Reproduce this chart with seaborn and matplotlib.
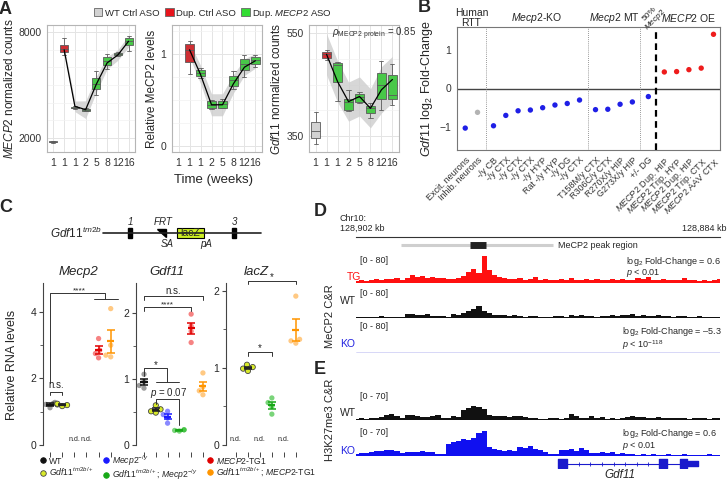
import numpy as np
import pandas as pd
import matplotlib
matplotlib.use("Agg")
import matplotlib.pyplot as plt
from matplotlib.patches import Patch, Polygon, Rectangle
from matplotlib.lines import Line2D
import seaborn as sns

# ---------------- Panel A: ASO time course ----------------
a_xlabels = ["1", "1", "1", "2", "5", "8", "12", "16"]
a_groups = ["WT", "Dup", "ASO", "ASO", "ASO", "ASO", "ASO", "ASO"]
a_line_x = [1, 2, 3, 4, 5, 6, 7]
# each box: whisker low, q1, median, q3, whisker high
mecp2_boxes = [[1700, 1740, 1770, 1800, 1840], [6700, 6880, 7020, 7260, 7650],
               [3640, 3680, 3720, 3770, 3800], [3500, 3540, 3590, 3640, 3680],
               [4450, 4770, 5050, 5420, 5800], [5900, 6150, 6340, 6560, 6750],
               [6650, 6680, 6760, 6840, 6880], [6900, 7260, 7480, 7670, 7750]]
mecp2_line = [6990, 3790, 3600, 5050, 6250, 6700, 7480]
mecp2_band = [150, 300, 500, 450, 350, 300, 330]

prot_boxes = [None, [0.79, 0.92, 1.05, 1.11, 1.15],
              [0.74, 0.76, 0.80, 0.83, 0.85], [0.40, 0.42, 0.45, 0.49, 0.50],
              [0.41, 0.42, 0.46, 0.49, 0.51], [0.62, 0.66, 0.72, 0.76, 0.82],
              [0.75, 0.83, 0.90, 0.95, 0.99], [0.86, 0.90, 0.94, 0.97, 0.99]]
prot_line = [1.05, 0.78, 0.45, 0.45, 0.68, 0.86, 0.93]
prot_band = [0.08, 0.10, 0.12, 0.12, 0.10, 0.09, 0.08]

gdf_boxes = [[334, 346, 360, 377, 397], [497, 501, 509, 514, 518],
             [418, 456, 489, 493, 495], [398, 400, 417, 423, 440],
             [414, 417, 425, 432, 436], [385, 394, 404, 409, 415],
             [400, 422, 449, 473, 496], [410, 422, 430, 469, 490]]
gdf_line = [509, 456, 417, 427, 404, 440, 460]
gdf_band = [40, 40, 38, 38, 38, 45, 45]

# ---------------- Panel B: Gdf11 fold change ----------------
b_labels = ["Excit. neurons", "Inhib. neurons", "-/y CB", "-/y CTX", "-/y CTX", "-/y CTX",
            "-/y HYP", "Rat -/y HYP", "-/y DG", "-/y CTX", "T158M/y CTX", "R306C/y CTX",
            "R270X/y HIP", "G273X/y HIP", "+/- DG",
            r"$\mathit{MECP2}$ Dup. HIP", r"$\mathit{MECP2}$ Trip. HYP", r"$\mathit{MECP2}$ Dup. HIP",
            r"$\mathit{MECP2}$ Trip. CTX", r"$\mathit{MECP2}$ AAV CTX"]
b_values = [-1.03, -0.62, -0.97, -0.70, -0.58, -0.56, -0.50, -0.43, -0.39, -0.30,
            -0.55, -0.54, -0.41, -0.35, -0.21, 0.43, 0.44, 0.49, 0.53, 1.41]
b_group = [0, 0, 1, 1, 1, 1, 1, 1, 1, 1, 2, 2, 2, 2, 3, 4, 4, 4, 4, 4]
b_kind = ["loss", "ctrl"] + ["loss"] * 13 + ["gain"] * 5
b_headers = ["Human\nRTT", r"$\mathit{Mecp2}$-KO", r"$\mathit{Mecp2}$ MT",
             "50%\n" + r"$\mathit{Mecp2}$", r"$\mathit{MECP2}$ OE"]

# ---------------- Panel C: RT-qPCR ----------------
c_groups = ["WT", "Gdf11/+", "Mecp2", "Gdf11;Mecp2", "TG1", "Gdf11;TG1"]
c_mecp2 = {"WT": [1.12, 1.22, 1.25, 1.28], "Gdf11/+": [1.17, 1.20, 1.22, 1.24],
           "TG1": [2.62, 2.75, 2.85, 3.20], "Gdf11;TG1": [2.65, 2.70, 3.00, 4.10]}
c_gdf11 = {"WT": [0.86, 0.90, 0.96, 1.07], "Gdf11/+": [0.49, 0.51, 0.54, 0.60],
           "Mecp2": [0.33, 0.41, 0.46, 0.51], "Gdf11;Mecp2": [0.21, 0.22, 0.23, 0.23],
           "TG1": [1.55, 1.72, 1.80, 1.98], "Gdf11;TG1": [0.76, 0.82, 0.88, 1.09]}
c_lacz = {"Gdf11/+": [0.96, 0.99, 1.01, 1.04], "Gdf11;Mecp2": [0.40, 0.50, 0.55, 0.61],
          "Gdf11;TG1": [1.32, 1.35, 1.37, 1.93]}
c_legend = ["WT", r"$\mathit{Gdf11}^{tm2b/+}$", r"$\mathit{Mecp2}^{-/y}$",
            r"$\mathit{Gdf11}^{tm2b/+}$; $\mathit{Mecp2}^{-/y}$", r"$\mathit{MECP2}$-TG1",
            r"$\mathit{Gdf11}^{tm2b/+}$; $\mathit{MECP2}$-TG1"]

# gene schematic (drawing units = pixels of the panel)
exon_x = [128, 232]
lacz_box = [177, 204]
frt_x = 157

# ---------------- Panels D/E: genome tracks (kb on chr10) ----------------
chr_left, chr_right = 128902.9, 128884.1
peak_region = [128900.6, 128892.7]
peak_core = [128897.0, 128896.2]
gdf11_exons = [(128891.99, 0.48), (128886.84, 0.41), (128885.78, 0.38)]
gdf11_utr = (128885.23, 0.55)
gdf11_span = [128892.47, 128885.23]
tg_cov = [6, 9, 5, 10, 12, 8, 13, 11, 14, 10, 16, 24, 18, 20, 16, 19, 14, 15, 12, 13,
          14, 22, 34, 42, 30, 80, 38, 24, 18, 15, 13, 12, 14, 10, 12, 17, 9, 11, 8, 10,
          12, 9, 15, 8, 10, 12, 9, 11, 8, 10, 12, 9, 11, 10, 9, 14, 12, 17, 10, 9,
          11, 8, 10, 9, 14, 8, 9, 7, 8, 6, 9, 12]
wt_cov = [2, 3, 4, 3, 4, 5, 3, 4, 3, 4, 10, 11, 7, 9, 10, 6, 5, 6, 4, 10,
          9, 15, 19, 24, 32, 20, 14, 9, 7, 8, 6, 7, 5, 4, 6, 5, 3, 4, 3, 5,
          6, 4, 7, 5, 8, 6, 5, 4, 6, 5, 7, 6, 8, 7, 10, 6, 7, 6, 5, 7,
          6, 5, 4, 5, 6, 3, 4, 5, 3, 4, 2, 4]
k27_wt_cov = [2, 4, 3, 6, 5, 7, 12, 14, 10, 6, 13, 12, 9, 7, 8, 11, 12, 6, 5, 9,
              7, 24, 30, 34, 33, 28, 12, 11, 9, 10, 8, 10, 9, 8, 5, 4, 3, 2, 4, 6,
              3, 4, 14, 9, 6, 4, 11, 6, 8, 3, 4, 3, 6, 8, 9, 7, 8, 6, 5, 7,
              4, 6, 5, 4, 5, 3, 5, 4, 4, 3, 5, 6]
k27_ko_cov = [5, 8, 7, 10, 12, 13, 15, 14, 12, 8, 9, 11, 10, 12, 9, 11, 6, 5, 30, 36,
              38, 42, 40, 45, 58, 62, 22, 18, 14, 12, 15, 13, 22, 20, 24, 18, 16, 10, 5, 4,
              14, 16, 18, 12, 20, 16, 7, 8, 10, 7, 9, 6, 8, 5, 4, 3, 4, 3, 5, 3,
              3, 4, 2, 3, 4, 3, 3, 2, 3, 4, 3, 3]

# ---------------- style ----------------
sns.set_theme(style="white")
plt.rcParams["font.family"] = ["Liberation Sans", "DejaVu Sans"]
plt.rcParams["mathtext.fontset"] = "custom"
plt.rcParams["mathtext.rm"] = "Liberation Sans"
plt.rcParams["mathtext.it"] = "Liberation Sans:italic"
plt.rcParams["mathtext.bf"] = "Liberation Sans:bold"

W, H = 727, 482
fig = plt.figure(figsize=(W / 100, H / 100), dpi=100)


def px_axes(x0, y0, x1, y1):
    return fig.add_axes([x0 / W, 1 - y1 / H, (x1 - x0) / W, (y1 - y0) / H])


def ftext(x, y, s, **kw):
    kw.setdefault("va", "center")
    fig.text(x / W, 1 - y / H, s, **kw)


GRAY, RED, GREEN = "#d2d2d2", "#e8141c", "#33dd33"
a_pal = {"WT": GRAY, "Dup": RED, "ASO": GREEN}


def draw_a(ax, boxes, line, band, ylim, major, minor, ylabel):
    rows = [(slot, a_groups[slot], v) for slot, b in enumerate(boxes) if b for v in b]
    df = pd.DataFrame(rows, columns=["slot", "grp", "val"])
    line = np.array(line, float)
    band = np.array(band, float)
    ax.fill_between(a_line_x, line - band, line + band, color="#cdcdcd", alpha=0.8,
                    lw=0, zorder=1)
    sns.boxplot(data=df, x="slot", y="val", hue="grp", order=list(range(8)),
                palette=a_pal, dodge=False, width=0.75, whis=(0, 100),
                linecolor="#5a5a5a", linewidth=0.6, legend=False, ax=ax)
    sns.lineplot(x=a_line_x, y=line, color="black", lw=0.9, ax=ax, zorder=4)
    ax.set_xlim(-0.6, 7.6)
    ax.set_xticks(range(8))
    ax.set_xticklabels(a_xlabels, fontsize=7.5, color="#333333")
    ax.set_xlabel("")
    ax.set_ylim(*ylim)
    ax.set_yticks(major)
    ax.set_yticklabels([str(m) for m in major], fontsize=7.5, color="#333333")
    ax.set_yticks(minor, minor=True)
    ax.set_axisbelow(True)
    ax.grid(True, which="major", color="#e4e4e4", lw=0.7)
    ax.grid(True, which="minor", axis="y", color="#f1f1f1", lw=0.5)
    ax.tick_params(which="minor", length=0)
    ax.tick_params(which="major", length=2, color="#888888", pad=2)
    for s in ax.spines.values():
        s.set_color("#b5b5b5")
        s.set_linewidth(0.8)
    ax.set_ylabel(ylabel, fontsize=8.5, labelpad=2)


ax1 = px_axes(47, 25, 135, 152)
draw_a(ax1, mecp2_boxes, mecp2_line, mecp2_band, (1200, 8400), [2000, 8000],
       [3000, 4000, 5000, 6000, 7000], r"$\mathit{MECP2}$ normalized counts")
ax2 = px_axes(172, 25, 262, 152)
draw_a(ax2, prot_boxes, prot_line, prot_band, (-0.065, 1.32), [0, 1],
       [0.25, 0.5, 0.75, 1.25], "Relative MeCP2 levels")
ax3 = px_axes(309, 25, 399, 152)
draw_a(ax3, gdf_boxes, gdf_line, gdf_band, (319, 566), [350, 550],
       [400, 450, 500], r"$\mathit{Gdf11}$ normalized counts")
ax3.text(0.25, 0.93, r"$\rho_{\mathrm{MECP2\ protein}}$ = 0.85", transform=ax3.transAxes,
         fontsize=7, color="#333333", va="center")

ftext(213, 180, "Time (weeks)", fontsize=9.5, ha="center")
a_handles = [Patch(fc=c, ec="#666666", lw=0.6) for c in (GRAY, RED, GREEN)]
fig.legend(a_handles, ["WT Ctrl ASO", "Dup. Ctrl ASO", r"Dup. $\mathit{MECP2}$ ASO"],
           loc="center", bbox_to_anchor=(213 / W, 1 - 13 / H), ncol=3, frameon=False,
           fontsize=6.8, handlelength=0.9, handleheight=0.9, columnspacing=0.6,
           handletextpad=0.25, borderpad=0)

# ---------------- B ----------------
axb = px_axes(457, 27, 720, 150)
b_pos = np.arange(len(b_values)) + 0.3 * np.array(b_group)
axb.axhline(0, color="#444444", lw=1.0, zorder=1)
sns.scatterplot(x=b_pos, y=b_values, hue=b_kind,
                palette={"loss": "#1f1fe6", "ctrl": "#b3b3b3", "gain": "#ee1c1c"},
                s=15, edgecolor="none", legend=False, ax=axb, zorder=3)
for g in range(4):
    last = b_pos[np.array(b_group) == g].max()
    first = b_pos[np.array(b_group) == g + 1].min()
    mid = (last + first) / 2
    if g == 3:
        axb.axvline(mid, color="black", lw=1.6, ls=(0, (3, 2)))
    else:
        axb.axvline(mid, color="#777777", lw=0.6, ls=(0, (1, 1.5)))
axb.set_xlim(b_pos[0] - 0.67, b_pos[-1] + 0.53)
axb.set_ylim(-1.6, 1.6)
axb.set_yticks([-1, 0, 1])
axb.set_yticklabels(["\u22121", "0", "1"], fontsize=7.5, color="#333333")
axb.set_xticks(b_pos)
axb.set_xticklabels(b_labels, rotation=45, ha="right", rotation_mode="anchor",
                    fontsize=6.5, color="#333333")
axb.tick_params(length=2, color="#777777", pad=2)
for s in axb.spines.values():
    s.set_color("#777777")
    s.set_linewidth(0.8)
axb.set_ylabel(r"$\mathit{Gdf11}$ log$_2$ Fold-Change", fontsize=9, labelpad=3)
for g, hdr in enumerate(b_headers):
    xs = b_pos[np.array(b_group) == g]
    xc = xs.mean()
    if g == 3:
        axb.text(xc + 0.4, 1.075, hdr, transform=axb.get_xaxis_transform(), rotation=45,
                 ha="center", va="center", fontsize=6, linespacing=0.85)
    else:
        axb.text(xc, 1.07, hdr, transform=axb.get_xaxis_transform(), ha="center",
                 va="center", fontsize=7.5, linespacing=1.0)

# ---------------- C ----------------
ax_s = px_axes(40, 205, 280, 250)
ax_s.set_xlim(40, 280)
ax_s.set_ylim(250, 205)
ax_s.axis("off")
ax_s.plot([103, 261], [233, 233], color="#222222", lw=1.2)
for ex in exon_x:
    ax_s.add_patch(Rectangle((ex, 228), 4, 10, color="black"))
ax_s.add_patch(Polygon([[frt_x, 228.5], [frt_x + 9, 228.5], [frt_x + 9, 237]], color="black"))
ax_s.add_patch(Rectangle((lacz_box[0], 228), lacz_box[1] - lacz_box[0], 10, fc="#ccee22",
                         ec="black", lw=0.8))
ax_s.text(50, 233, r"$\mathit{Gdf11}^{tm2b}$", fontsize=8.5, va="center")
ax_s.text(exon_x[0] + 2, 222, "1", fontsize=7, style="italic", ha="center", va="center")
ax_s.text(exon_x[1] + 2, 222, "3", fontsize=7, style="italic", ha="center", va="center")
ax_s.text(frt_x + 6, 222, "FRT", fontsize=7, style="italic", ha="center", va="center")
ax_s.text(frt_x + 10, 244, "SA", fontsize=7, style="italic", ha="center", va="center")
ax_s.text(lacz_box[1] + 2, 244, "pA", fontsize=7, style="italic", ha="center", va="center")
ax_s.text(sum(lacz_box) / 2, 233, "lacZ", fontsize=7.5, ha="center", va="center")

c_pal = {"WT": "#5a5a5a", "Gdf11/+": "#d8ea2a", "Mecp2": "#3a3aff",
         "Gdf11;Mecp2": "#22b822", "TG1": "#f03030", "Gdf11;TG1": "#ffa530"}
c_bar = {"WT": "#111111", "Gdf11/+": "#222222", "Mecp2": "#1a1aff",
         "Gdf11;Mecp2": "#18a818", "TG1": "#e00000", "Gdf11;TG1": "#ff9500"}


def bracket(ax, pts, text=None, tx=None, ty=None, fs=7):
    xs, ys = zip(*pts)
    ax.plot(xs, ys, color="#333333", lw=0.7, clip_on=False)
    if text:
        ax.text(tx, ty, text, ha="center", va="center", fontsize=fs, clip_on=False)


def draw_c(ax, data, ylim, major, minor):
    rows = [(g, v) for g in c_groups if g in data for v in data[g]]
    df = pd.DataFrame(rows, columns=["grp", "val"])
    plain = df[df.grp != "Gdf11/+"]
    sns.swarmplot(data=plain, x="grp", y="val", hue="grp", order=c_groups, palette=c_pal,
                  size=3.8, alpha=0.6, legend=False, ax=ax, zorder=2)
    yel = df[df.grp == "Gdf11/+"]
    if len(yel):
        sns.swarmplot(data=yel, x="grp", y="val", hue="grp", order=c_groups,
                      palette=c_pal, size=3.8, linewidth=0.6, edgecolor="#444444",
                      legend=False, ax=ax, zorder=2)
    for i, g in enumerate(c_groups):
        if g in data:
            v = np.array(data[g])
            m = v.mean()
            se = v.std(ddof=1) / np.sqrt(len(v))
            ax.hlines(m, i - 0.3, i + 0.3, color=c_bar[g], lw=1.6, zorder=4)
            ax.errorbar(i, m, yerr=se, color=c_bar[g], capsize=3, elinewidth=1.1,
                        capthick=1.1, zorder=4)
        else:
            ax.text(i, ylim[1] * 0.035, "n.d.", ha="center", va="center", fontsize=5)
    ax.set_ylim(*ylim)
    ax.set_yticks(major)
    ax.set_yticklabels([str(m) for m in major], fontsize=7.5)
    ax.set_yticks(minor, minor=True)
    ax.set_xticks(range(6))
    ax.set_xticklabels([])
    ax.set_xlabel("")
    ax.set_ylabel("")
    for s in ("top", "right"):
        ax.spines[s].set_visible(False)
    ax.spines["bottom"].set_position(("outward", 5))
    ax.spines["bottom"].set_visible(False)
    ax.spines["left"].set_color("#444444")
    ax.spines["left"].set_linewidth(0.8)
    ax.tick_params(axis="y", which="major", length=3, width=0.8, color="#444444", pad=2,
                   left=True)
    ax.tick_params(axis="y", which="minor", length=2, width=0.6, color="#444444", left=True)
    ax.tick_params(axis="x", length=3.5, width=0.7, color="#444444", bottom=True)


axc1 = px_axes(43, 283, 118, 445)
draw_c(axc1, c_mecp2, (0, 4.87), [0, 2, 4], [1, 3])
axc1.set_xlim(-0.58, 5.6)
bracket(axc1, [(0, 1.85), (0, 4.56), (4.55, 4.56), (4.55, 4.4)], "****", 2.4, 4.64, fs=6)
bracket(axc1, [(3.6, 4.4), (5.6, 4.4)])
bracket(axc1, [(0, 1.5), (0, 1.6), (1, 1.6), (1, 1.5)], "n.s.", 0.5, 1.8)

axc2 = px_axes(136, 283, 210, 445)
draw_c(axc2, c_gdf11, (0, 2.45), [0, 1, 2], [0.5, 1.5])
axc2.set_xlim(-0.68, 5.6)
bracket(axc2, [(0, 2.2), (0, 2.25), (5, 2.25), (5, 2.2)], "n.s.", 2.5, 2.33)
bracket(axc2, [(0, 2.03), (0, 2.09), (4, 2.09), (4, 2.03)], "****", 2.0, 2.12, fs=6)
bracket(axc2, [(0, 1.04), (0, 1.16), (1.93, 1.16), (1.93, 0.95)], "*", 1.0, 1.21)
bracket(axc2, [(1.0, 0.95), (3.0, 0.95)])
bracket(axc2, [(1, 0.62), (1, 0.69), (3, 0.69), (3, 0.3)], r"$p$ = 0.07", 2.1, 0.79)

axc3 = px_axes(226, 283, 303, 445)
draw_c(axc3, c_lacz, (0, 2.1), [0, 1, 2], [0.5, 1.5])
axc3.set_xlim(-0.83, 5.6)
bracket(axc3, [(1, 1.15), (1, 1.2), (3, 1.2), (3, 1.15)], "*", 2.0, 1.25)
bracket(axc3, [(1, 2.09), (1, 2.13), (5, 2.13), (5, 2.09)], "*", 3.0, 2.18)

for title, x in [("Mecp2", 78), ("Gdf11", 167), ("lacZ", 256)]:
    ftext(x, 272, title, fontsize=9.5, style="italic", ha="center")

ftext(12, 365, "Relative RNA levels", fontsize=9, rotation=90, ha="center")
c_handles = []
for g in c_groups:
    ec = "#444444" if g == "Gdf11/+" else c_bar[g]
    c_handles.append(Line2D([], [], ls="none", marker="o", markersize=4,
                            mfc=c_bar[g] if g != "Gdf11/+" else c_pal[g], mec=ec, mew=0.6))
fig.legend(c_handles, c_legend, loc="center", bbox_to_anchor=(178 / W, 1 - 467.5 / H),
           ncol=3, frameon=False, fontsize=6.2, handlelength=0.8, handletextpad=0.3,
           columnspacing=1.0, labelspacing=0.0, borderpad=0)

# ---------------- D / E ----------------
bins = np.linspace(chr_left, chr_right, len(tg_cov))

axr = px_axes(356, 228, 720, 237)
axr.set_xlim(chr_left, chr_right)
axr.set_ylim(0, 1)
for s in ("top", "left", "right"):
    axr.spines[s].set_visible(False)
axr.spines["bottom"].set_color("#333333")
axr.spines["bottom"].set_linewidth(0.8)
axr.set_xticks(list(range(128885, 128902)) + [chr_left])
axr.set_xticklabels([])
axr.set_yticks([])
axr.tick_params(axis="x", direction="in", length=5, width=0.7, color="#333333")

axp = px_axes(356, 241, 720, 249)
axp.set_xlim(chr_left, chr_right)
axp.set_ylim(0, 1)
axp.axis("off")
axp.plot(peak_region, [0.5, 0.5], color="#cfcfcf", lw=2.2, solid_capstyle="butt")
axp.plot(peak_core, [0.5, 0.5], color="#222222", lw=5, solid_capstyle="butt")


def track(y0, y1, cov, color, ymax, label):
    ax = px_axes(356, y0, 720, y1)
    ax.set_xlim(chr_left, chr_right)
    ax.set_ylim(0, ymax)
    ax.axis("off")
    if cov is not None:
        ax.fill_between(bins, cov, step="mid", color=color, lw=0)
    ax.axhline(0, color=color, lw=1.0)
    ax.text(0.012, 1.0, label, transform=ax.transAxes, fontsize=6.5, va="top")
    return ax


track(256, 283, tg_cov, "#ff1010", 80, "[0 - 80]")
track(289, 318, wt_cov, "#111111", 80, "[0 - 80]")
track(322, 353, None, "#3a3ad8", 80, "[0 - 80]")
track(392, 420, k27_wt_cov, "#111111", 70, "[0 - 70]")
track(428, 456, k27_ko_cov, "#1010f0", 70, "[0 - 70]")

axg = px_axes(356, 458, 720, 469)
axg.set_xlim(chr_left, chr_right)
axg.set_ylim(0, 1)
axg.axis("off")
axg.plot(gdf11_span, [0.5, 0.5], color="#1a1acc", lw=0.8)
axg.broken_barh(gdf11_exons, (0.08, 0.84), color="#1a1acc")
axg.broken_barh([gdf11_utr], (0.25, 0.5), color="#1a1acc")
axg.plot(np.arange(128891.4, 128887.3, -0.6), [0.5] * 7, ls="none", marker="|",
         markersize=3, color="#1a1acc", mew=0.6)
ftext(620, 475, "Gdf11", fontsize=8.5, style="italic", ha="center")

ftext(340, 219, "Chr10:", fontsize=6.5)
ftext(340, 228, "128,902 kb", fontsize=6.5)
ftext(726, 228, "128,884 kb", fontsize=6.5, ha="right")
ftext(558, 245, "MeCP2 peak region", fontsize=6.5)
ftext(347, 277, "TG", fontsize=7.5, color="#ff1010")
ftext(340, 301, "WT", fontsize=7.5)
ftext(340, 344, "KO", fontsize=7.5, color="#2020e0")
ftext(340, 413, "WT", fontsize=7.5)
ftext(340, 451, "KO", fontsize=7.5, color="#2020e0")
ftext(330, 316, "MeCP2 C&R", fontsize=8, rotation=90, ha="center")
ftext(330, 420, "H3K27me3 C&R", fontsize=8, rotation=90, ha="center")
ftext(626, 261, r"log$_2$ Fold-Change = 0.6", fontsize=6.5)
ftext(626, 273, r"$p$ < 0.01", fontsize=6.5)
ftext(622, 332, "log$_2$ Fold-Change = \u20135.3", fontsize=6.5)
ftext(622, 345, r"$p$ < 10$^{-118}$", fontsize=6.5)
ftext(622, 434, r"log$_2$ Fold-Change = 0.6", fontsize=6.5)
ftext(622, 446, r"$p$ < 0.01", fontsize=6.5)

for lab, x, y in [("A", 5, 9), ("B", 424, 8), ("C", 6, 207), ("D", 320, 212), ("E", 320, 370)]:
    ftext(x, y, lab, fontsize=13, fontweight="bold", ha="center")

fig.savefig("out.png", dpi=100)
